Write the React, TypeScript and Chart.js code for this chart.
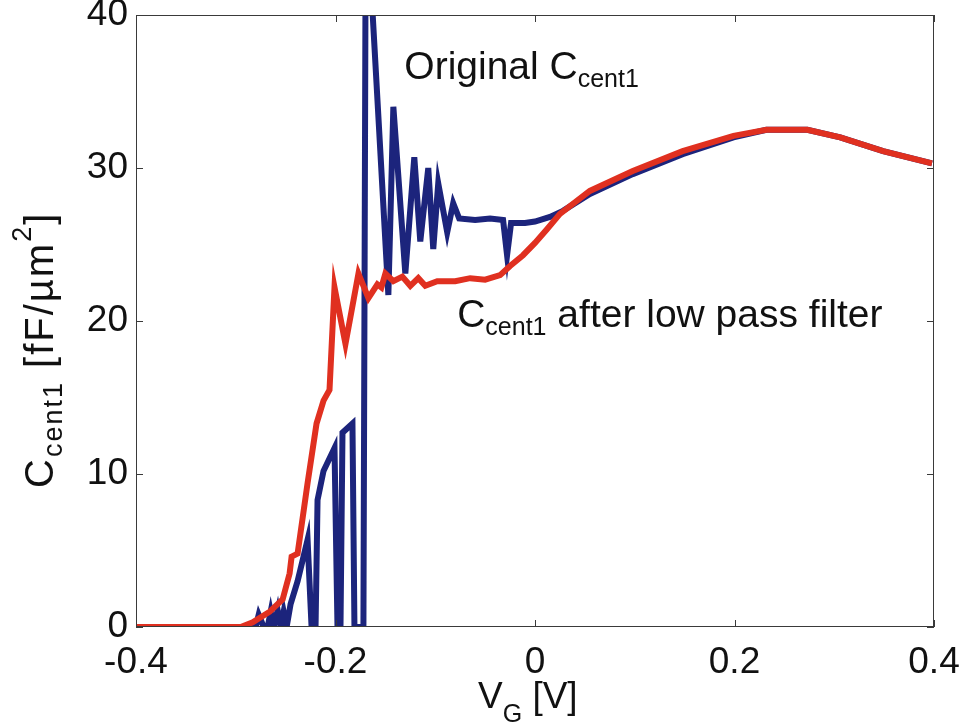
import React, { useEffect, useRef } from "react";
import { Chart, registerables } from "chart.js";
Chart.register(...registerables);

// Original C_cent1 (blue)
const originalVG = [
  -0.4, -0.28, -0.277, -0.272, -0.268, -0.265, -0.262, -0.258, -0.255, -0.252, -0.249,
  -0.245, -0.238, -0.228, -0.224, -0.22, -0.218, -0.212, -0.201, -0.198, -0.195, -0.193,
  -0.183, -0.181, -0.172, -0.17, -0.167, -0.147, -0.142, -0.13, -0.121, -0.115, -0.107,
  -0.102, -0.097, -0.088, -0.082, -0.076, -0.06, -0.045, -0.032, -0.028, -0.024, -0.01,
  0.0, 0.015, 0.028, 0.055, 0.098, 0.148, 0.199, 0.232, 0.273, 0.306, 0.349, 0.398,
];
const originalC = [
  0, 0, 0.8, 0, 0, 1.0, 0, 1.1, 0, 1.0, 0,
  1.5, 3.0, 5.7, 0, 0, 8.3, 10.2, 11.7, 0, 0, 12.7,
  13.3, 0, 0, 40, 45, 21.7, 34.0, 23.1, 30.7, 25.2, 30.0,
  24.7, 29.0, 25.8, 27.7, 26.7, 26.6, 26.7, 26.6, 24.3, 26.4, 26.4,
  26.5, 26.8, 27.2, 28.3, 29.6, 30.9, 32.0, 32.5, 32.5, 32.0, 31.1, 30.3,
];

// C_cent1 after low pass filter (red)
const filteredVG = [
  -0.4, -0.295, -0.283, -0.266, -0.253, -0.246, -0.244, -0.238, -0.228, -0.219, -0.212,
  -0.206, -0.201, -0.19, -0.177, -0.167, -0.158, -0.154, -0.15, -0.142, -0.133, -0.125,
  -0.117, -0.11, -0.098, -0.08, -0.065, -0.05, -0.045, -0.035, -0.025, -0.012, 0.0,
  0.012, 0.025, 0.055, 0.098, 0.148, 0.199, 0.232, 0.273, 0.306, 0.349, 0.398,
];
const filteredC = [
  0, 0, 0.3, 1.0, 1.8, 3.5, 4.6, 4.8, 9.4, 13.3, 14.8,
  15.5, 22.2, 18.5, 23.1, 21.5, 22.4, 22.2, 23.1, 22.6, 22.9, 22.3,
  22.8, 22.3, 22.6, 22.6, 22.8, 22.7, 22.8, 23.0, 23.6, 24.3, 25.1,
  26.0, 27.0, 28.5, 29.8, 31.1, 32.1, 32.5, 32.5, 32.0, 31.1, 30.3,
];

const xTickValues = [-0.4, -0.2, 0, 0.2, 0.4];
const xTickLabels = ["-0.4", "-0.2", "0", "0.2", "0.4"];
const yTickValues = [0, 10, 20, 30, 40];
const yTickLabels = ["0", "10", "20", "30", "40"];

const FONT = '"Liberation Sans", Arial, Helvetica, sans-serif';

type Part = { text: string; size: number; dy?: number };

function drawRich(ctx: CanvasRenderingContext2D, parts: Part[], x: number, y: number, spacing = 0) {
  let cx = x;
  const c: any = ctx;
  c.letterSpacing = `${spacing}px`;
  for (const p of parts) {
    ctx.font = `${p.size}px ${FONT}`;
    ctx.fillText(p.text, cx, y + (p.dy || 0));
    cx += ctx.measureText(p.text).width;
  }
  c.letterSpacing = "0px";
}

const framePlugin = {
  id: "frame",
  afterDraw(chart: any) {
    const { ctx, chartArea } = chart;
    const { left, right, top, bottom } = chartArea;
    const xs = chart.scales.x;
    const ys = chart.scales.y;
    ctx.save();
    ctx.strokeStyle = "#3a3a3a";
    ctx.lineWidth = 1;
    ctx.strokeRect(left + 0.5, top + 0.5, right - left - 1, bottom - top - 1);
    const tl = 7;
    ctx.beginPath();
    for (const v of xTickValues) {
      const px = Math.round(xs.getPixelForValue(v)) + 0.5;
      ctx.moveTo(px, bottom);
      ctx.lineTo(px, bottom - tl);
      ctx.moveTo(px, top);
      ctx.lineTo(px, top + tl);
    }
    for (const v of yTickValues) {
      const py = Math.round(ys.getPixelForValue(v)) + 0.5;
      ctx.moveTo(left, py);
      ctx.lineTo(left + tl, py);
      ctx.moveTo(right, py);
      ctx.lineTo(right - tl, py);
    }
    ctx.stroke();

    ctx.fillStyle = "#111";
    ctx.textBaseline = "alphabetic";
    ctx.textAlign = "left";
    drawRich(
      ctx,
      [
        { text: "Original C", size: 39 },
        { text: "cent1", size: 25, dy: 8 },
      ],
      xs.getPixelForValue(-0.131),
      ys.getPixelForValue(35.8)
    );
    drawRich(
      ctx,
      [
        { text: "C", size: 39 },
        { text: "cent1", size: 25, dy: 8 },
        { text: " after low pass filter", size: 39 },
      ],
      xs.getPixelForValue(-0.078),
      ys.getPixelForValue(19.6)
    );
    drawRich(
      ctx,
      [
        { text: "V", size: 37 },
        { text: "G", size: 25, dy: 14 },
        { text: " [V]", size: 37 },
      ],
      478,
      708
    );
    ctx.translate(53, 488);
    ctx.rotate(-Math.PI / 2);
    drawRich(
      ctx,
      [
        { text: "C", size: 40 },
        { text: "cent1", size: 27, dy: 9 },
        { text: " [fF/\u00B5m", size: 40 },
        { text: "2", size: 27, dy: -22 },
        { text: "]", size: 40 },
      ],
      0,
      0,
      2
    );
    ctx.restore();
  },
};

export default function App() {
  const ref = useRef<HTMLCanvasElement | null>(null);
  useEffect(() => {
    if (!ref.current) return;
    const chart = new Chart(ref.current, {
      type: "line",
      data: {
        datasets: [
          {
            label: "filtered",
            data: filteredVG.map((x, i) => ({ x, y: filteredC[i] })),
            borderColor: "rgb(224, 48, 32)",
            borderWidth: 6,
            pointRadius: 0,
            tension: 0,
            clip: 0,
          } as any,
          {
            label: "original",
            data: originalVG.map((x, i) => ({ x, y: originalC[i] })),
            borderColor: "rgb(28, 36, 124)",
            borderWidth: 6,
            pointRadius: 0,
            tension: 0,
            clip: 0,
          } as any,
        ],
      },
      options: {
        responsive: false,
        animation: false,
        devicePixelRatio: 1,
        layout: { padding: { top: 15, right: 30, left: 0, bottom: 0 } },
        plugins: { legend: { display: false }, tooltip: { enabled: false } },
        scales: {
          x: {
            type: "linear",
            min: -0.4,
            max: 0.4,
            grid: { display: false, drawTicks: false },
            border: { display: false },
            afterBuildTicks: (s: any) => {
              s.ticks = xTickValues.map((v) => ({ value: v }));
            },
            afterFit: (s: any) => {
              s.height = 100;
              s.paddingLeft = 0;
              s.paddingRight = 0;
              s.paddingTop = 0;
              s.paddingBottom = 0;
            },
            ticks: {
              autoSkip: false,
              maxRotation: 0,
              padding: 14,
              color: "#111",
              font: { family: FONT, size: 37 },
              callback: (v: any) => {
                const i = xTickValues.findIndex((t) => Math.abs(t - Number(v)) < 1e-9);
                return i >= 0 ? xTickLabels[i] : "";
              },
            },
          },
          y: {
            type: "linear",
            min: 0,
            max: 40,
            grid: { display: false, drawTicks: false },
            border: { display: false },
            afterBuildTicks: (s: any) => {
              s.ticks = yTickValues.map((v) => ({ value: v }));
            },
            afterFit: (s: any) => {
              s.width = 136;
              s.paddingLeft = 0;
              s.paddingRight = 0;
              s.paddingTop = 0;
              s.paddingBottom = 0;
            },
            ticks: {
              autoSkip: false,
              padding: 8,
              color: "#111",
              font: { family: FONT, size: 37 },
              callback: (v: any) => {
                const i = yTickValues.findIndex((t) => Math.abs(t - Number(v)) < 1e-9);
                return i >= 0 ? yTickLabels[i] : "";
              },
            },
          },
        },
      } as any,
      plugins: [framePlugin],
    });
    return () => chart.destroy();
  }, []);
  return (
    <div style={{ position: "absolute", left: 0, top: 0, width: 964, height: 727, background: "#fff" }}>
      <canvas ref={ref} width={964} height={727} style={{ width: 964, height: 727, display: "block" }} />
    </div>
  );
}
